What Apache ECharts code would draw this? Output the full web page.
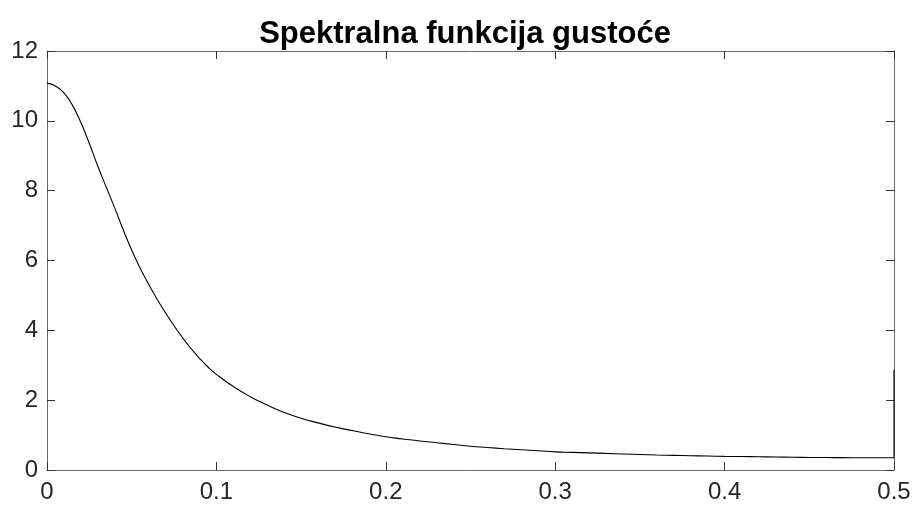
<!DOCTYPE html>
<html>
<head>
<meta charset="utf-8">
<script src="https://cdn.jsdelivr.net/npm/echarts@6/dist/echarts.min.js"></script>
<style>html,body{margin:0;padding:0;background:#fff}#c{width:917px;height:511px}</style>
</head>
<body>
<div id="c"></div>
<script>
const titleText = 'Spektralna funkcija gustoće';
const freq = [0, 0.005, 0.01, 0.015, 0.02, 0.025, 0.03, 0.035, 0.04, 0.045,
  0.05, 0.055, 0.06, 0.065, 0.07, 0.075, 0.08, 0.085, 0.09, 0.095,
  0.10, 0.11, 0.12, 0.13, 0.14, 0.15, 0.16, 0.17, 0.18, 0.19,
  0.20, 0.21, 0.22, 0.23, 0.24, 0.25, 0.26, 0.27, 0.28, 0.29,
  0.30, 0.31, 0.32, 0.33, 0.34, 0.35, 0.36, 0.37, 0.38, 0.39,
  0.40, 0.41, 0.42, 0.43, 0.44, 0.45, 0.46, 0.47, 0.48, 0.49, 0.50];
const density = [11.08, 11.0, 10.8, 10.45, 9.95, 9.35, 8.7, 8.1, 7.5, 6.88,
  6.3, 5.78, 5.32, 4.89, 4.5, 4.13, 3.79, 3.48, 3.2, 2.95,
  2.74, 2.39, 2.1, 1.86, 1.65, 1.48, 1.35, 1.23, 1.13, 1.04,
  0.95, 0.89, 0.83, 0.78, 0.73, 0.68, 0.645, 0.61, 0.58, 0.55,
  0.52, 0.505, 0.49, 0.475, 0.46, 0.445, 0.43, 0.42, 0.41, 0.40,
  0.39, 0.385, 0.38, 0.372, 0.366, 0.36, 0.357, 0.354, 0.352, 0.351, 0.35];
// final vertical jump at the right edge
const jumpFreq = [0.5, 0.5];
const jumpDensity = [0.35, 2.87];
const xTicks = [0, 0.1, 0.2, 0.3, 0.4, 0.5];
const yTicks = [0, 2, 4, 6, 8, 10, 12];

const chart = echarts.init(document.getElementById('c'), null, {renderer: 'canvas'});
const font = 'Liberation Sans, Arial, Helvetica, sans-serif';
const axisCol = '#6a6a6a';
const lbl = {color: '#262626', fontSize: 24, fontFamily: font};
const common = {
  axisLine: {show: true, onZero: false, lineStyle: {color: axisCol, width: 1}},
  axisTick: {show: true, inside: true, length: 8, lineStyle: {color: '#333', width: 1}},
  splitLine: {show: false}
};
chart.setOption({
  animation: false,
  backgroundColor: '#fff',
  title: {
    text: titleText, left: 460, top: 14, textAlign: 'center',
    textStyle: {fontFamily: font, fontSize: 31, fontWeight: 'bold', color: '#000'}
  },
  grid: {left: 47, right: 23, top: 51, bottom: 41, containLabel: false},
  xAxis: [
    Object.assign({type: 'value', min: 0, max: 0.5, interval: 0.1, position: 'bottom',
      axisLabel: Object.assign({margin: 10, formatter: v => xTicks.includes(+v.toFixed(2)) ? String(+v.toFixed(2)) : ''}, lbl)}, common),
    Object.assign({type: 'value', min: 0, max: 0.5, interval: 0.1, position: 'top', axisLabel: {show: false}}, common)
  ],
  yAxis: [
    Object.assign({type: 'value', min: 0, max: 12, interval: 2, position: 'left',
      axisLabel: Object.assign({margin: 9, formatter: v => yTicks.includes(v) ? String(v) : ''}, lbl)}, common),
    Object.assign({type: 'value', min: 0, max: 12, interval: 2, position: 'right', axisLabel: {show: false}}, common)
  ],
  series: [{
    type: 'line',
    data: freq.map((f, i) => [f, density[i]]),
    showSymbol: false,
    smooth: 0.5,
    lineStyle: {color: '#000', width: 1.1}
  }, {
    type: 'line',
    data: jumpFreq.map((f, i) => [f, jumpDensity[i]]),
    showSymbol: false,
    lineStyle: {color: '#000', width: 1.1}
  }]
});
</script>
</body>
</html>
